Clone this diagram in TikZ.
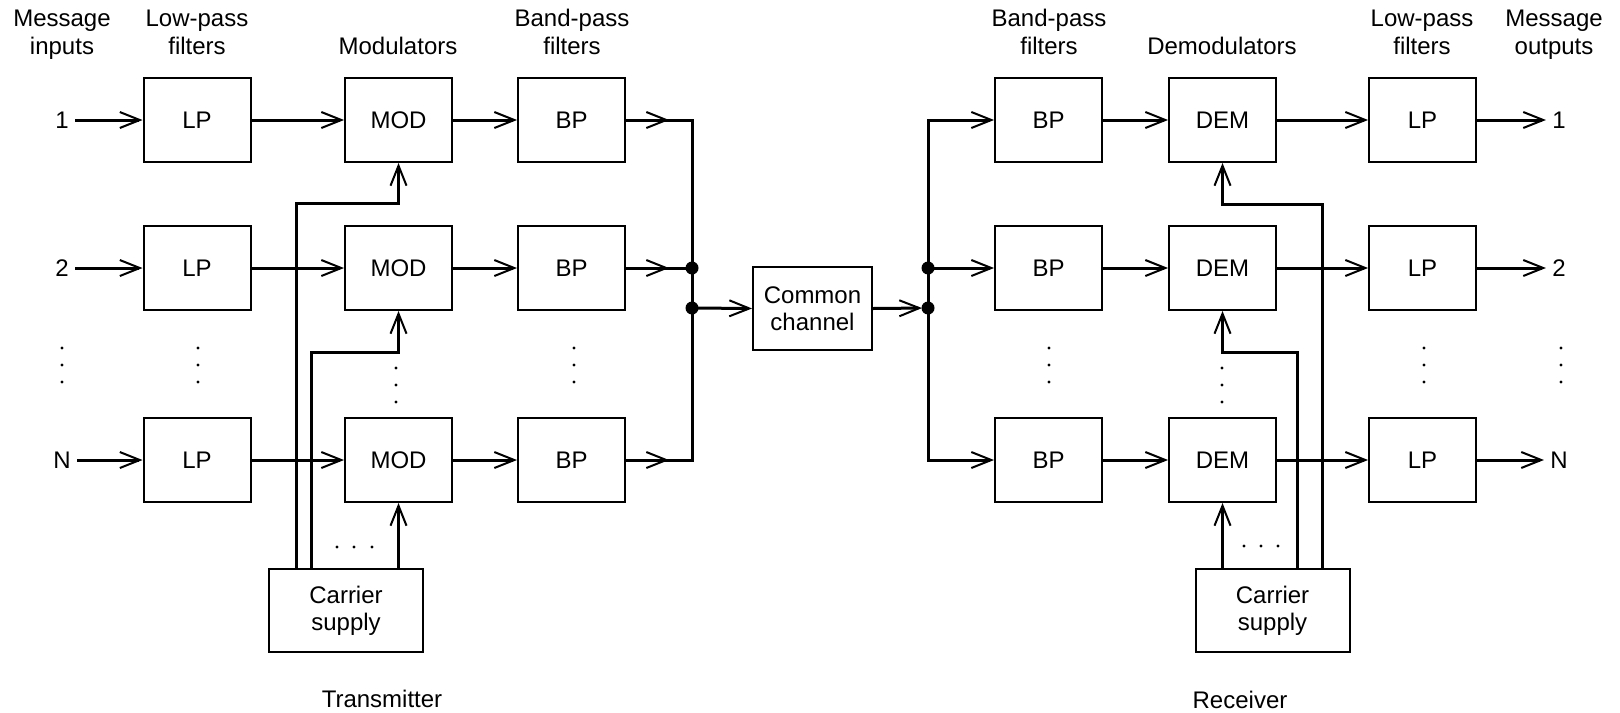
\documentclass[tikz,border=0pt]{standalone}
\usepackage{fontspec}
\setmainfont{Liberation Sans}
\usetikzlibrary{arrows.meta,decorations.markings,calc}
\begin{document}
\begin{tikzpicture}[x=0.5pt,y=-0.5pt,
  every node/.style={font=\fontsize{12}{13.5}\selectfont},
  blk/.style={draw,line width=1pt,minimum width=53.5pt,minimum height=42pt,inner sep=0pt},
  cbox/.style={draw,line width=1pt,minimum width=77pt,minimum height=41.5pt,inner sep=0pt,align=center},
  lbl/.style={inner sep=3pt},
  hdr/.style={align=center,inner sep=0pt,anchor=base},
  wire/.style={line width=1.5pt},
  arr/.style={wire,-{Straight Barb[length=10pt,width=8pt,line width=1pt]}},
  tipat/.style={postaction={decorate},decoration={markings,
      mark=at position #1 with {\arrow{Straight Barb[length=10pt,width=8pt,line width=1pt]}}}},
  jdot/.style={fill,circle,inner sep=0pt,minimum size=6.5pt}
  ]
\useasboundingbox (0,0) rectangle (1620,712);

% headers
\node[hdr] at (62,54) {Message\\inputs};
\node[hdr] at (197,54) {Low-pass\\filters};
\node[hdr] at (398,54) {Modulators};
\node[hdr] at (572,54) {Band-pass\\filters};
\node[hdr] at (1049,54) {Band-pass\\filters};
\node[hdr] at (1222,54) {Demodulators};
\node[hdr] at (1422,54) {Low-pass\\filters};
\node[hdr] at (1554,54) {Message\\outputs};
\node[hdr] at (382,707) {Transmitter};
\node[hdr] at (1240,708) {Receiver};

% input / output labels
\node[lbl] (in1) at (62,120) {1};
\node[lbl] (in2) at (62,268) {2};
\node[lbl] (inN) at (62,460) {N};
\node[lbl] (out1) at (1559,120) {1};
\node[lbl] (out2) at (1559,268) {2};
\node[lbl] (outN) at (1559,460) {N};

% transmitter and receiver blocks
\foreach \r/\y in {1/120,2/268,N/460}{
  \node[blk] (lp\r) at (197,\y) {LP};
  \node[blk] (mod\r) at (398.5,\y) {MOD};
  \node[blk] (bp\r) at (571.5,\y) {BP};
  \node[blk] (bpr\r) at (1048.5,\y) {BP};
  \node[blk] (dem\r) at (1222.5,\y) {DEM};
  \node[blk] (lpr\r) at (1422.5,\y) {LP};
}
\node[cbox] (csT) at (346,610.5) {Carrier\\supply};
\node[cbox] (csR) at (1272.5,610.5) {Carrier\\supply};
\node[cbox,minimum width=59.5pt] (cc) at (812.5,308.5) {Common\\channel};

% junction coordinates
\coordinate (jL1) at (692,120);
\coordinate (jL2) at (692,268);
\coordinate (jLc) at (692,308);
\coordinate (jLN) at (692,460);
\coordinate (jR1) at (928,120);
\coordinate (jR2) at (928,268);
\coordinate (jRc) at (928,308);
\coordinate (jRN) at (928,460);

% row connectors
\foreach \r in {1,2,N}{
  \draw[arr] (in\r) -- (lp\r.west);
  \draw[arr] (lp\r.east) -- (mod\r.west);
  \draw[arr] (mod\r.east) -- (bp\r.west);
  \draw[arr] (bpr\r.east) -- (dem\r.west);
  \draw[arr] (dem\r.east) -- (lpr\r.west);
  \draw[arr] (lpr\r.east) -- (out\r);
}

% carrier wiring (transmitter)
\draw[arr] ([xshift=14pt]csT.north west) |- ([yshift=-20pt]mod1.south) -- (mod1.south);
\draw[arr] ([xshift=21.5pt]csT.north west) |- ([yshift=-20.5pt]mod2.south) -- (mod2.south);
\draw[arr] (csT.north -| modN.south) -- (modN.south);

% carrier wiring (receiver)
\draw[arr] ([xshift=64pt]csR.north west) |- ([yshift=-20.5pt]dem1.south) -- (dem1.south);
\draw[arr] ([xshift=51.5pt]csR.north west) |- ([yshift=-20.5pt]dem2.south) -- (dem2.south);
\draw[arr] (csR.north -| demN.south) -- (demN.south);

% combining network
\draw[wire,tipat=21.5pt] (bp1.east) -- (jL1) -- (jL2);
\draw[wire,tipat=21.5pt] (bpN.east) -- (jLN) -- (jLc);
\draw[wire] (jLc) -- (jL2);
\draw[wire,tipat=21.5pt] (bp2.east) -- (jL2);
\draw[arr] (jLc) -- (cc.west);

\draw[arr,shorten >=3pt] (cc.east) -- (jRc);
\draw[arr] (jR2) -- (jR1) -- (bpr1.west);
\draw[arr] (jR2) -- (jRN) -- (bprN.west);
\draw[arr] (jR2) -- (bpr2.west);

\foreach \j in {jL2,jLc,jR2,jRc} \node[jdot] at (\j) {};

% ellipsis dots
\foreach \x in {62,198,574,1049,1424,1561}
  \foreach \y in {348,365,382} \fill (\x,\y) circle (0.85pt);
\foreach \x in {396,1222}
  \foreach \y in {368,385,402} \fill (\x,\y) circle (0.85pt);
\foreach \x in {337,354,372} \fill (\x,547) circle (0.85pt);
\foreach \x in {1244,1261,1278} \fill (\x,546) circle (0.85pt);
\end{tikzpicture}
\end{document}
